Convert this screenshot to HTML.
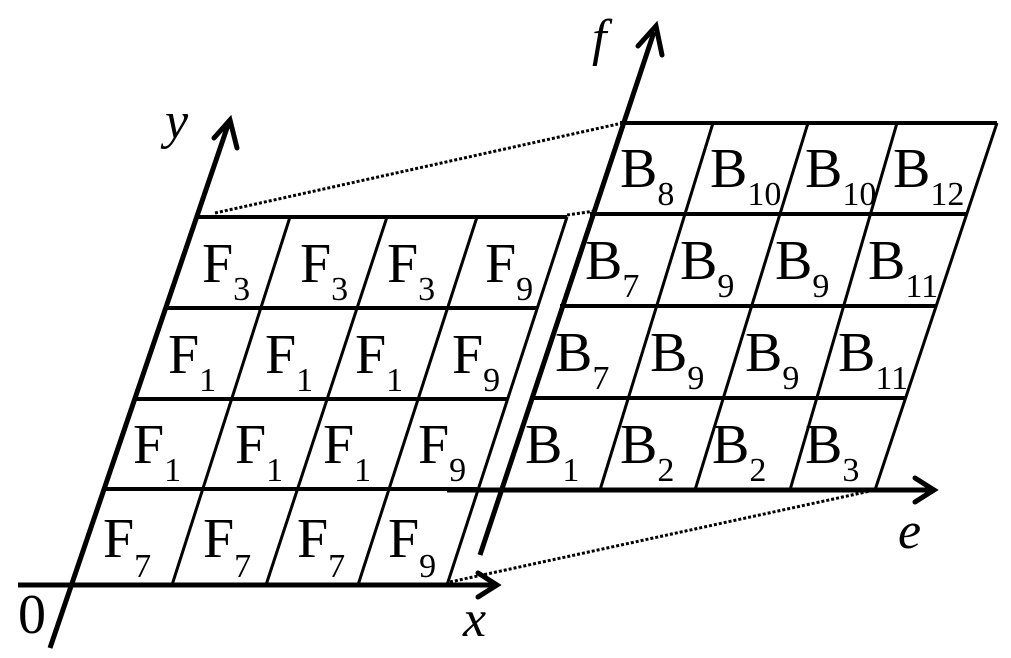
<!DOCTYPE html>
<html><head><meta charset="utf-8"><style>html,body{margin:0;padding:0;background:#fff}svg{display:block}</style></head><body>
<svg width="1011" height="658" viewBox="0 0 1011 658" xmlns="http://www.w3.org/2000/svg" font-family="Liberation Serif, serif">
<g stroke="#000" fill="none">
<!-- left grid rows -->
<g stroke-width="4">
<line x1="195" y1="217" x2="567" y2="217"/>
<line x1="166" y1="308" x2="537" y2="308"/>
<line x1="135" y1="399" x2="507" y2="399"/>
<line x1="104" y1="489" x2="477" y2="489"/>
</g>
<g stroke-width="3">
<line x1="290" y1="217" x2="172" y2="585"/>
<line x1="387" y1="217" x2="266" y2="585"/>
<line x1="477" y1="217" x2="358" y2="585"/>
<line x1="567" y1="217" x2="447" y2="585"/>
</g>
<!-- right grid -->
<g stroke-width="4">
<line x1="620" y1="123" x2="997" y2="123"/>
<line x1="590" y1="214" x2="966" y2="214"/>
<line x1="560" y1="306" x2="936" y2="306"/>
<line x1="530" y1="398" x2="906" y2="398"/>
</g>
<g stroke-width="3">
<line x1="713" y1="123" x2="600" y2="490"/>
<line x1="808" y1="123" x2="695" y2="490"/>
<line x1="897" y1="123" x2="790" y2="490"/>
<line x1="997" y1="123" x2="875" y2="490"/>
</g>
<!-- axes -->
<g stroke-width="5">
<line x1="18" y1="585" x2="495" y2="585"/>
<line x1="50" y1="648" x2="228" y2="125"/>
<line x1="447" y1="490" x2="932" y2="490"/>
<line x1="480" y1="555" x2="654" y2="32"/>
</g>
<g stroke-width="5" stroke-linecap="round">
<polyline points="478,573 497,585 478,597"/>
<polyline points="915,478 934,490 915,502"/>
<polyline points="214,138 230,120 237,148"/>
<polyline points="638,46 656,26 662,55"/>
</g>
<!-- dotted -->
<g stroke-width="3" stroke-dasharray="3,2">
<line x1="215" y1="213" x2="618" y2="124"/>
<line x1="567" y1="215" x2="595" y2="211"/>
<line x1="450" y1="582" x2="875" y2="490"/>
</g>
</g>
<g font-size="56" fill="#000">
<text x="202" y="282">F<tspan font-size="34" dy="18">3</tspan></text>
<text x="300" y="282">F<tspan font-size="34" dy="18">3</tspan></text>
<text x="387" y="282">F<tspan font-size="34" dy="18">3</tspan></text>
<text x="485" y="282">F<tspan font-size="34" dy="18">9</tspan></text>
<text x="168" y="373">F<tspan font-size="34" dy="18">1</tspan></text>
<text x="265" y="373">F<tspan font-size="34" dy="18">1</tspan></text>
<text x="355" y="373">F<tspan font-size="34" dy="18">1</tspan></text>
<text x="452" y="373">F<tspan font-size="34" dy="18">9</tspan></text>
<text x="133" y="463">F<tspan font-size="34" dy="18">1</tspan></text>
<text x="235" y="463">F<tspan font-size="34" dy="18">1</tspan></text>
<text x="323" y="463">F<tspan font-size="34" dy="18">1</tspan></text>
<text x="418" y="463">F<tspan font-size="34" dy="18">9</tspan></text>
<text x="103" y="557">F<tspan font-size="34" dy="20">7</tspan></text>
<text x="203" y="557">F<tspan font-size="34" dy="20">7</tspan></text>
<text x="297" y="557">F<tspan font-size="34" dy="20">7</tspan></text>
<text x="388" y="557">F<tspan font-size="34" dy="20">9</tspan></text>
<text x="620" y="187">B<tspan font-size="34" dy="18">8</tspan></text>
<text x="710" y="187">B<tspan font-size="34" dy="18">10</tspan></text>
<text x="805" y="187">B<tspan font-size="34" dy="18">10</tspan></text>
<text x="893" y="187">B<tspan font-size="34" dy="18">12</tspan></text>
<text x="585" y="279">B<tspan font-size="34" dy="18">7</tspan></text>
<text x="680" y="279">B<tspan font-size="34" dy="18">9</tspan></text>
<text x="775" y="279">B<tspan font-size="34" dy="18">9</tspan></text>
<text x="868" y="279">B<tspan font-size="34" dy="18">11</tspan></text>
<text x="555" y="371">B<tspan font-size="34" dy="18">7</tspan></text>
<text x="650" y="371">B<tspan font-size="34" dy="18">9</tspan></text>
<text x="745" y="371">B<tspan font-size="34" dy="18">9</tspan></text>
<text x="838" y="371">B<tspan font-size="34" dy="18">11</tspan></text>
<text x="525" y="463">B<tspan font-size="34" dy="18">1</tspan></text>
<text x="620" y="463">B<tspan font-size="34" dy="18">2</tspan></text>
<text x="712" y="463">B<tspan font-size="34" dy="18">2</tspan></text>
<text x="805" y="463">B<tspan font-size="34" dy="18">3</tspan></text>
<text x="18" y="633">0</text>
</g>
<g font-size="52" font-style="italic" fill="#000">
<text x="165" y="138">y</text>
<text x="592" y="55">f</text>
<text x="898" y="548">e</text>
<text x="463" y="636">x</text>
</g>
</svg>
</body></html>
